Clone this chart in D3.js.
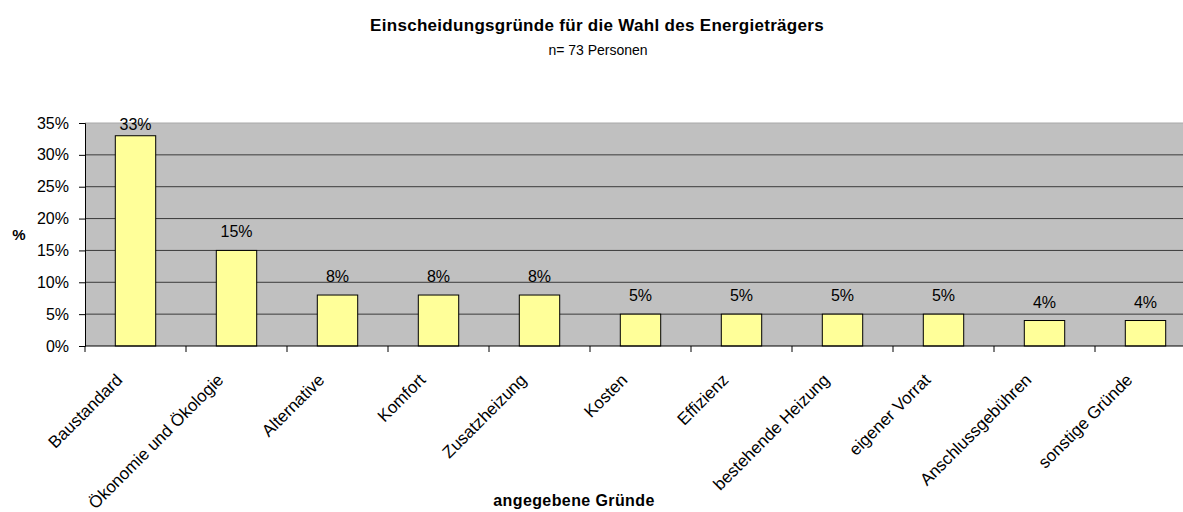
<!DOCTYPE html>
<html>
<head>
<meta charset="utf-8">
<script src="https://cdn.jsdelivr.net/npm/d3@7"></script>
<style>
  body { margin: 0; background: #fff; }
  svg { font-family: "Liberation Sans", Arial, sans-serif; }
</style>
</head>
<body>
<svg id="chart" width="1183" height="512"></svg>
<script>
const categories = ["Baustandard", "Ökonomie und Ökologie", "Alternative", "Komfort", "Zusatzheizung",
    "Kosten", "Effizienz", "bestehende Heizung", "eigener Vorrat", "Anschlussgebühren", "sonstige Gründe"]
const values = [0.33, 0.15, 0.08, 0.08, 0.08, 0.05, 0.05, 0.05, 0.05, 0.04, 0.04]
const yTicks = [0, 0.05, 0.10, 0.15, 0.20, 0.25, 0.30, 0.35]

const svg = d3.select("#chart")
const plotLeft = 85, plotRight = 1196, plotTop = 123, plotBottom = 346

const x = d3.scaleBand().domain(categories).range([plotLeft, plotRight]).paddingInner(0.6).paddingOuter(0.3)
const y = d3.scaleLinear().domain([0, 0.35]).range([plotBottom, plotTop])
const fmt = d => Math.round(d * 100) + "%"

// plot background
svg.append("rect")
    .attr("x", plotLeft)
    .attr("y", plotTop)
    .attr("width", plotRight - plotLeft)
    .attr("height", plotBottom - plotTop)
    .style("fill", "#c0c0c0")

// gridlines
svg.append("g")
    .selectAll("line")
    .data(yTicks.slice(1))
    .enter()
    .append("line")
    .attr("x1", plotLeft)
    .attr("x2", plotRight)
    .attr("y1", d => y(d))
    .attr("y2", d => y(d))
    .style("stroke", d => d === 0.35 ? "#a8a8a8" : "#3a3a3a")
    .style("stroke-width", 1)

// bars
svg.append("g")
    .selectAll("rect")
    .data(values)
    .enter()
    .append("rect")
    .attr("x", (d, i) => x(categories[i]))
    .attr("y", d => y(d))
    .attr("width", x.bandwidth())
    .attr("height", d => y(0) - y(d))
    .style("fill", "#ffff99")
    .style("stroke", "#000")
    .style("stroke-width", 1)

// value labels (kept inside the plot area like excel does)
svg.append("g")
    .selectAll("text")
    .data(values)
    .enter()
    .append("text")
    .attr("x", (d, i) => x(categories[i]) + x.bandwidth() / 2)
    .attr("y", d => Math.max(y(d) - 13, plotTop + 7))
    .attr("text-anchor", "middle")
    .attr("font-size", "16px")
    .attr("fill", "#000")
    .text(fmt)

// y axis
const yAxis = d3.axisLeft(y).tickValues(yTicks).tickFormat(fmt).tickSize(6).tickPadding(10)
const yG = svg.append("g")
    .attr("transform", `translate(${plotLeft},0)`)
    .call(yAxis)
yG.selectAll("text").attr("font-size", "16px").attr("fill", "#000").style("font-family", "Liberation Sans, Arial, sans-serif")
yG.selectAll("line").style("stroke", "#000")
yG.select(".domain").style("stroke", "#000")

// x axis line and ticks between categories
const step = x.step()
const tickPos = d3.range(categories.length + 1).map(i => plotLeft + i * step)
svg.append("line")
    .attr("x1", plotLeft)
    .attr("x2", plotRight)
    .attr("y1", plotBottom)
    .attr("y2", plotBottom)
    .style("stroke", "#000")
svg.append("g")
    .selectAll("line")
    .data(tickPos)
    .enter()
    .append("line")
    .attr("x1", d => d)
    .attr("x2", d => d)
    .attr("y1", plotBottom)
    .attr("y2", plotBottom + 6)
    .style("stroke", "#000")

// category labels
svg.append("g")
    .selectAll("text")
    .data(categories)
    .enter()
    .append("text")
    .attr("transform", d => `translate(${x(d) + x.bandwidth() / 2 - 12},${plotBottom + 35}) rotate(-45)`)
    .attr("text-anchor", "end")
    .attr("font-size", "17px")
    .attr("fill", "#000")
    .text(d => d)

// titles
svg.append("text")
    .attr("x", 597)
    .attr("y", 31)
    .attr("text-anchor", "middle")
    .attr("font-size", "17px")
    .attr("font-weight", "bold")
    .style("letter-spacing", "0.3px")
    .text("Einscheidungsgründe für die Wahl des Energieträgers")
svg.append("text")
    .attr("x", 598)
    .attr("y", 55)
    .attr("text-anchor", "middle")
    .attr("font-size", "14px")
    .text("n= 73 Personen")
svg.append("text")
    .attr("x", 574)
    .attr("y", 506)
    .attr("text-anchor", "middle")
    .attr("font-size", "16px")
    .attr("font-weight", "bold")
    .style("letter-spacing", "0.4px")
    .text("angegebene Gründe")
svg.append("text")
    .attr("x", 19)
    .attr("y", 240)
    .attr("text-anchor", "middle")
    .attr("font-size", "15px")
    .attr("font-weight", "bold")
    .text("%")
</script>
</body>
</html>
